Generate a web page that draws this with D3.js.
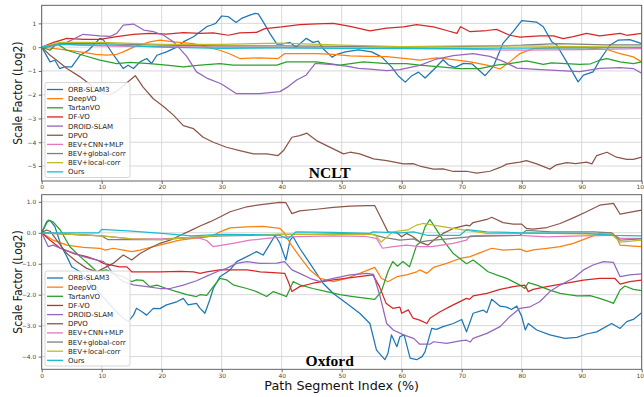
<!DOCTYPE html>
<html>
<head>
<meta charset="utf-8">
<script src="https://cdn.jsdelivr.net/npm/d3@7"></script>
<style>
  body { margin: 0; background: #fff; }
  svg { display: block; font-family: 'DejaVu Sans', sans-serif; }
</style>
</head>
<body>
<div id="chart"></div>
<script>
// legend entries and their matplotlib (tab10) colours
const methods = ['ORB-SLAM3', 'DeepVO', 'TartanVO', 'DF-VO', 'DROID-SLAM', 'DPVO',
  'BEV+CNN+MLP', 'BEV+global-corr', 'BEV+local-corr', 'Ours']
const colors = ['#1f77b4', '#ff7f0e', '#2ca02c', '#d62728', '#9467bd', '#8c564b',
  '#e377c2', '#7f7f7f', '#bcbd22', '#17becf']

const xTicks = [0, 10, 20, 30, 40, 50, 60, 70, 80, 90, 100]
const ncltYTicks = [1, 0, -1, -2, -3, -4, -5]
const oxfordYTicks = [1, 0, -1, -2, -3, -4]
const ncltYDomain = [-5.63, 1.76]
const oxfordYDomain = [-4.41, 1.23]

// NCLT, [path segment %, log2 scale factor]
const ncltOrb = [[0, 0], [1.4, -0.62], [2.2, -0.55], [3, -0.9], [3.8, -0.83], [5, -0.83], [6.4, -0.34], [7.8, -0.13], [9.7, 0.37], [10.3, 0.3], [12, -0.34], [13.6, -0.9], [14.4, -0.76], [15.3, -0.9], [16.4, -0.62], [17.5, -0.48], [18.3, -0.69], [19.2, -0.34], [20.8, -0.2], [22.5, 0], [23.6, 0.22], [25.3, 0.44], [26.4, 0.65], [27.5, 0.86], [28.3, 0.93], [29, 1.0], [30, 1.31], [31.1, 1.28], [32.4, 1.04], [33.3, 1.21], [34.7, 1.35], [35.6, 1.42], [36.1, 1.4], [37, 1.03], [38.1, 0.55], [39.2, 0.13], [40, 0.13], [41.4, 0.2], [42.4, 0], [44.1, 0.37], [45.2, 0.2], [46.1, 0.25], [46.9, -0.07], [48.4, -0.42], [49.2, -0.3], [50.6, -0.2], [52.8, -0.11], [55, -0.2], [56.7, -0.42], [58.3, -0.83], [59.4, -1.2], [60.6, -1.47], [61.7, -1.2], [62.8, -1.05], [63.9, -1.3], [65.3, -0.95], [66.9, -0.53], [67.8, -0.75], [68.9, -0.85], [70.3, -0.68], [71.7, -0.7], [73.9, -1.2], [75.3, -0.8], [76.9, 0.17], [78.6, 0.66], [80, 1.12], [82.5, 1.05], [83.6, 0.86], [85, 0.23], [85.8, 0.1], [87.5, -0.62], [89.4, -1.46], [90.3, -1.18], [91.9, -1.04], [93, -0.55], [94.7, 0.08], [96.1, 0.3], [98, 0.32], [100, 0.15]]
const ncltDeepvo = [[0, 0], [2, -0.05], [4.2, -0.13], [7, -0.22], [9, -0.3], [10.8, -0.34], [12.5, -0.3], [13.6, -0.2], [15.3, 0], [18, 0.22], [19.7, 0.3], [22, 0.22], [25.3, 0.15], [27.5, 0], [29.7, -0.13], [31.5, -0.3], [33, -0.48], [36.3, -0.45], [39.4, -0.48], [40.5, -0.27], [43, -0.27], [45.8, -0.27], [48.6, -0.3], [51.4, -0.37], [54.2, -0.39], [57.5, -0.4], [60.8, -0.48], [63, -0.55], [65.8, -0.45], [68.6, -0.53], [71.4, -0.62], [74.2, -0.76], [76.4, -0.92], [78, -0.62], [79.7, -0.27], [81.9, -0.06], [85.3, -0.03], [90.8, -0.03], [94.2, -0.1], [96.4, -0.27], [98.6, -0.41], [100, -0.62]]
const ncltTartan = [[0, 0], [1.4, -0.13], [2.5, 0.15], [4.2, -0.13], [6.9, -0.34], [9.7, -0.55], [12.5, -0.69], [14.7, -0.64], [18, -0.69], [20.8, -0.76], [23.6, -0.83], [26.4, -0.76], [29.7, -0.69], [31.9, -0.76], [39.2, -0.76], [40.8, -0.62], [45.8, -0.62], [49.7, -0.76], [53.6, -0.62], [57.5, -0.69], [60.8, -0.69], [63, -0.76], [66.4, -0.83], [69.7, -0.9], [73, -0.9], [75.8, -0.76], [78, -0.69], [80.8, -0.58], [83.6, -0.72], [85, -0.66], [89.7, -0.72], [91.5, -0.7], [93, -0.55], [94.2, -0.48], [96.4, -0.62], [98.6, -0.69], [100, -0.62]]
const ncltDfvo = [[0, 0], [2, 0.2], [4.2, 0.37], [7, 0.33], [9.7, 0.33], [12.5, 0.44], [15.3, 0.54], [18, 0.58], [20.8, 0.55], [23.6, 0.61], [26.4, 0.58], [28.6, 0.6], [31.1, 0.5], [33, 0.6], [35.8, 0.62], [37.2, 0.78], [40, 0.85], [43, 0.95], [45.8, 0.98], [48.6, 1.0], [51.4, 0.87], [54.7, 0.68], [57.5, 0.8], [60.3, 0.85], [62.5, 0.95], [65.3, 0.85], [67.5, 0.7], [69.2, 0.58], [69.8, 0.86], [71.4, 0.65], [74.2, 0.7], [75.8, 0.75], [78, 0.5], [79.7, 0.42], [83, 0.47], [85.3, 0.47], [86.9, 0.36], [88.6, 0.44], [90.8, 0.58], [93, 0.47], [96.4, 0.58], [97.5, 0.5], [100, 0.58]]
const ncltDroid = [[0, 0], [2, 0.05], [4.2, 0.2], [6.9, 0.54], [9.7, 0.47], [11.4, 0.45], [12.5, 0.58], [13.6, 0.93], [15.3, 0.97], [17, 0.72], [18.6, 0.65], [20.3, 0.5], [22, 0.22], [24.2, -0.4], [25.8, -1.04], [27.5, -1.3], [29.7, -1.52], [30.3, -1.6], [32.4, -1.95], [36.3, -1.95], [39.7, -1.87], [41.1, -1.66], [42.5, -1.38], [44.1, -1.17], [45.6, -0.68], [48.6, -0.74], [50.8, -0.8], [52.8, -0.89], [54.7, -0.92], [57.5, -0.99], [59.7, -0.95], [63, -0.77], [65.8, -0.5], [68.6, -0.36], [71.9, -0.27], [74.7, -0.39], [76.9, -0.6], [79.2, -0.88], [82.5, -0.93], [86.4, -0.99], [89.7, -1.03], [93, -0.89], [96.4, -0.86], [98.6, -0.9], [100, -1.1]]
const ncltDpvo = [[0, 0], [1.4, -0.34], [2.5, -0.55], [4.2, -0.9], [6.4, -1.25], [8.6, -1.68], [10.3, -1.96], [11.4, -2.0], [12.5, -1.86], [14.2, -1.5], [15.6, -1.2], [16.9, -1.68], [18.6, -2.17], [20.3, -2.5], [22, -2.87], [23.6, -3.3], [25.3, -3.43], [26.9, -3.79], [28.6, -4.0], [30.8, -4.21], [33, -4.35], [35.3, -4.49], [37.5, -4.49], [39.4, -4.56], [40.3, -4.35], [41.7, -3.79], [43, -3.72], [44.2, -3.62], [45.8, -3.93], [48.6, -4.28], [50.3, -4.49], [51.4, -4.42], [53, -4.49], [55.3, -4.7], [57.5, -4.77], [60.3, -4.91], [61.9, -4.9], [63, -5.0], [65.3, -5.13], [66.9, -5.12], [68.6, -5.23], [70.8, -5.22], [72.5, -5.3], [74.7, -5.22], [76.4, -5.06], [77.5, -4.92], [79.7, -4.84], [80.8, -4.77], [82.5, -4.91], [84.7, -5.13], [85.8, -4.95], [87.5, -4.86], [89, -4.9], [90.8, -4.84], [91.7, -4.91], [92.5, -4.56], [94.2, -4.42], [95.8, -4.63], [97.5, -4.72], [98.6, -4.72], [100, -4.63]]
const ncltCnn = [[0, 0], [3, 0.15], [6, 0.1], [10, 0.05], [20, 0.02], [30, 0], [40, -0.02], [50, -0.04], [60, -0.06], [70, -0.08], [80, -0.13], [90, -0.1], [100, -0.06]]
const ncltGlobal = [[0, 0], [3, 0.15], [10, 0.15], [20, 0.08], [30, 0.05], [40, 0.05], [50, 0.03], [60, 0], [70, 0.02], [80, 0.08], [86, 0.15], [94, 0.1], [100, 0.1]]
const ncltLocal = [[0, 0], [3, 0.2], [10, 0.2], [20, 0.12], [30, 0.12], [40, 0.17], [50, 0.08], [60, 0.02], [70, 0.05], [80, 0.05], [90, 0.02], [100, -0.01]]
const ncltOurs = [[0, 0], [3, 0.12], [6, 0.1], [12, 0.08], [20, 0], [30, -0.05], [40, -0.03], [50, -0.05], [60, -0.05], [70, -0.05], [80, -0.04], [90, -0.03], [100, -0.01]]

// Oxford
const oxfordOrb = [[0, 0], [0.8, 0.35], [1.4, 0.4], [2.2, 0.2], [3.3, -0.45], [4.2, -0.77], [5, -1.1], [6.4, -1.26], [8, -1.63], [9.7, -1.96], [11.4, -2.33], [13, -2.66], [14.4, -2.87], [15.3, -2.66], [15.8, -2.44], [16.7, -2.55], [17.5, -2.66], [18.6, -2.44], [19.7, -2.45], [20.8, -2.33], [22.5, -2.23], [23.6, -2.12], [24.4, -2.33], [25.8, -2.28], [26.4, -2.44], [27.2, -2.6], [28, -2.17], [28.6, -1.8], [29.7, -1.42], [31.4, -1.2], [32.5, -0.93], [34.2, -0.77], [35.8, -0.61], [36.9, -0.72], [38.1, -0.34], [38.9, -0.08], [39.7, -0.34], [40.7, -0.88], [41.4, -0.24], [41.9, -0.13], [43, -0.5], [44.7, -0.99], [46.9, -1.63], [48.6, -1.96], [50.8, -2.28], [53, -2.6], [54.7, -2.93], [55.8, -3.79], [57.2, -4.1], [57.7, -3.9], [58.3, -3.3], [59.2, -3.68], [59.7, -3.36], [60.4, -3.3], [61.4, -4.05], [62.5, -4.1], [63.4, -4.0], [63.9, -3.84], [65, -3.09], [65.8, -3.12], [66.9, -3.03], [68.6, -2.93], [70, -2.8], [70.8, -3.2], [71.9, -2.6], [73.6, -2.5], [74.2, -2.58], [75, -2.15], [76.4, -2.37], [77.5, -2.4], [78.3, -2.48], [79.2, -2.37], [80, -2.7], [80.6, -3.14], [81.1, -2.93], [82.5, -3.14], [84.7, -3.3], [87.2, -3.41], [89.2, -3.38], [90.8, -3.27], [92.5, -3.2], [95, -2.93], [96.4, -3.09], [97.5, -2.87], [98.6, -2.8], [100, -2.58]]
const oxfordDeepvo = [[0, 0], [1.9, -0.24], [4.2, -0.4], [6.9, -0.47], [9.7, -0.5], [10.6, -0.56], [11.9, -0.5], [13.6, -0.56], [15, -0.61], [16.4, -0.56], [18.6, -0.45], [20.8, -0.34], [23, -0.24], [25.3, -0.18], [27.5, -0.13], [28.6, -0.08], [29.7, 0.03], [31.4, 0.16], [34.2, 0.19], [36.9, 0.21], [39.7, 0.14], [40.5, -0.02], [41.4, -0.34], [43, -0.77], [44.7, -1.2], [46.4, -1.47], [48.6, -1.58], [50.8, -1.47], [53, -1.31], [55.5, -1.12], [56.6, -1.47], [57.7, -1.58], [59.2, -1.42], [60.8, -1.36], [62.5, -1.26], [63, -1.2], [64.2, -1.31], [65.3, -1.12], [67.5, -0.99], [69.7, -0.83], [71.4, -0.77], [73, -0.65], [75, -0.5], [76.9, -0.56], [79.7, -0.53], [80.8, -0.61], [81.9, -0.55], [84.2, -0.5], [86.4, -0.45], [88.6, -0.34], [90.8, -0.18], [93, -0.02], [94.7, 0], [95.8, -0.13], [96.4, -0.4], [98.6, -0.43], [100, -0.45]]
const oxfordTartan = [[0, 0], [1.1, 0.41], [1.9, 0.35], [3.1, 0.09], [4.7, -0.45], [6.4, -0.77], [8, -1.04], [9.2, -1.26], [10.8, -1.2], [11.9, -1.31], [13.6, -1.42], [15, -1.58], [15.8, -1.52], [16.9, -1.54], [18, -1.74], [19.2, -1.69], [20.8, -1.8], [22.5, -1.9], [24.2, -2.0], [25.8, -2.06], [26.4, -2.0], [27.5, -2.02], [28.6, -1.74], [29.7, -1.47], [30.8, -1.52], [31.9, -1.68], [34.2, -1.8], [35.8, -1.9], [37.5, -2.06], [38.6, -1.9], [40, -2.0], [40.8, -2.06], [41.9, -1.58], [43, -1.68], [45.2, -1.8], [47.5, -1.9], [49.7, -2.0], [51.9, -2.06], [54.2, -2.12], [55.5, -2.15], [56.6, -1.9], [57.7, -1.26], [58.5, -0.93], [59.3, -1.08], [60.2, -0.93], [61.3, -1.1], [62.5, -0.4], [63, -0.32], [63.9, 0.19], [64.7, 0.43], [65.5, 0.19], [66.9, -0.24], [68.6, -0.67], [70, -0.88], [70.8, -1.0], [71.9, -0.88], [73, -1.04], [74.4, -1.26], [75.8, -1.36], [77.5, -1.47], [79.7, -1.69], [80.5, -1.8], [81.1, -1.61], [82.5, -1.69], [84.7, -1.85], [86.4, -1.96], [89.2, -2.04], [91.4, -2.03], [93, -2.12], [94.7, -2.23], [95.3, -2.28], [96.4, -1.85], [97.2, -1.72], [98.6, -1.83], [100, -1.87]]
const oxfordDfvo = [[0, 0], [1.4, -0.24], [3.1, -0.5], [5.3, -0.67], [7.5, -0.77], [9.2, -0.88], [10.3, -0.99], [11.4, -1.04], [13, -1.1], [14.2, -1.1], [15, -1.26], [16.4, -1.26], [19.7, -1.26], [23.1, -1.25], [25.3, -1.26], [26.4, -1.31], [27.5, -1.26], [29.7, -1.2], [31.9, -1.2], [34.2, -1.2], [36.4, -1.26], [38.6, -1.29], [40.5, -1.31], [41.1, -1.58], [41.7, -1.9], [43, -1.74], [45.2, -1.63], [48.6, -1.52], [51.9, -1.44], [55.2, -1.36], [56.3, -1.74], [57.4, -2.28], [58.5, -2.44], [59.7, -2.4], [60, -2.6], [61.1, -2.49], [61.9, -2.76], [63, -2.82], [64.2, -2.93], [64.7, -2.76], [66.4, -2.55], [68.6, -2.33], [70.8, -2.12], [71.3, -2.15], [71.9, -2.04], [74.2, -1.96], [76.4, -1.83], [78.6, -1.74], [80.5, -1.69], [81.1, -1.9], [81.9, -1.83], [84.2, -1.74], [87.5, -1.63], [90.3, -1.53], [93, -1.47], [95.5, -1.47], [96.4, -1.66], [98, -1.58], [100, -1.53]]
const oxfordDroid = [[0, 0], [1.1, -0.45], [1.9, -0.4], [3.1, -0.5], [4.7, -0.61], [6.9, -0.77], [9.2, -0.88], [10.3, -0.93], [10.8, -1.04], [11.9, -1.31], [13.6, -1.58], [15.3, -1.68], [17.5, -1.74], [19.7, -1.8], [21.4, -1.8], [23.6, -1.69], [25.8, -1.55], [27.5, -1.4], [29.7, -1.22], [30.8, -1.15], [32.5, -0.99], [34.2, -0.93], [36.4, -0.99], [39.2, -0.98], [40.5, -0.93], [41.7, -1.2], [43, -1.31], [44.7, -1.47], [46.4, -1.58], [48.6, -1.47], [51.4, -1.36], [54.2, -1.31], [55.3, -1.34], [56.4, -2.06], [57.5, -2.93], [58.6, -3.14], [60.3, -3.3], [62, -3.41], [63, -3.6], [64.7, -3.6], [65.3, -3.52], [67.5, -3.57], [69.7, -3.49], [70.8, -3.47], [71.4, -3.53], [71.9, -3.41], [74.2, -3.25], [76.4, -3.03], [78, -2.71], [79.7, -2.44], [81.4, -2.39], [83, -2.23], [84.7, -1.9], [86.4, -1.69], [88.6, -1.47], [90.3, -1.2], [91.9, -1.04], [93.6, -0.93], [95.3, -0.96], [96.4, -1.42], [98, -1.36], [100, -1.33]]
const oxfordDpvo = [[0, 0], [0.8, 0.09], [1.4, 0.05], [2.5, -0.24], [4.2, -0.67], [5.8, -0.93], [7.5, -1.15], [9.2, -1.26], [10.3, -1.15], [11.9, -0.99], [13.6, -0.72], [15, -0.88], [16.4, -0.67], [18, -0.5], [19.7, -0.34], [21.4, -0.24], [23.1, -0.08], [24.7, 0.06], [26.4, 0.22], [28, 0.35], [29.7, 0.51], [31.4, 0.68], [34.2, 0.84], [36.9, 0.92], [39.7, 0.98], [40.7, 0.97], [41.7, 0.62], [43, 0.71], [45.8, 0.76], [48.6, 0.82], [51.4, 0.86], [54.2, 0.88], [55.5, 0.88], [56.6, 0.46], [57.7, 0.03], [59.2, 0], [60, -0.13], [60.8, -0.02], [61.9, -0.13], [63, -0.3], [64.4, -0.4], [65.3, -0.24], [66.9, -0.02], [68.6, 0.14], [70.8, 0.25], [71.3, 0.22], [71.9, 0.33], [74.2, 0.43], [75, 0.5], [76.9, 0.33], [78.6, 0.28], [80, 0.28], [80.8, 0.14], [81.9, 0.12], [84.2, 0.17], [86.4, 0.3], [88.6, 0.48], [90.8, 0.68], [93, 0.89], [95.3, 0.95], [96.4, 0.6], [98.6, 0.68], [100, 0.73]]
const oxfordCnn = [[0, 0], [5, -0.05], [10, -0.1], [15, -0.2], [20, -0.2], [25, -0.15], [26.4, -0.18], [27.5, -0.25], [28.6, -0.45], [31.9, -0.34], [34.7, -0.24], [37.5, -0.18], [40.8, -0.13], [48.6, -0.1], [54, -0.12], [55.8, -0.18], [56.8, -0.5], [58.6, -0.45], [60.8, -0.4], [63, -0.45], [65, -0.45], [68.6, -0.34], [70.8, -0.24], [71.4, -0.1], [74.2, -0.08], [79.7, -0.08], [84.2, -0.13], [90, -0.1], [95.3, -0.08], [96.4, -0.18], [100, -0.18]]
const oxfordGlobal = [[0, 0], [5, -0.05], [10, -0.1], [11, -0.22], [15, -0.22], [20, -0.22], [25, -0.15], [30, -0.1], [35, -0.08], [40, -0.05], [45, -0.05], [50, -0.03], [55, -0.05], [57, -0.15], [59.7, -0.24], [62, -0.2], [63, -0.3], [64.5, -0.25], [68.6, -0.18], [72, -0.12], [79.7, -0.08], [80.8, 0.08], [85, 0.03], [92, 0.03], [95, 0], [96.4, -0.24], [100, -0.2]]
const oxfordLocal = [[0, 0], [5, -0.05], [10, -0.1], [15, -0.2], [20, -0.22], [25, -0.15], [30, -0.08], [40, -0.05], [50, -0.05], [55.5, -0.05], [56.6, -0.3], [58.5, 0.03], [61, 0.09], [62.5, 0.25], [63.5, 0.3], [68.6, 0.14], [74.2, -0.02], [85, -0.02], [95, -0.05], [96.4, -0.3], [100, -0.24]]
const oxfordOurs = [[0, 0], [5, 0], [9.5, 0], [10, 0.11], [15, 0.05], [20, -0.02], [25, -0.1], [30, -0.05], [35, -0.06], [39.7, -0.08], [41, -0.2], [42.4, 0.03], [48.6, 0.01], [54.7, -0.02], [55.2, 0.03], [59.7, 0], [62, 0.03], [64.2, -0.08], [69.7, -0.08], [70.8, 0.1], [74.2, 0.03], [79.7, 0], [90.8, -0.02], [95.3, -0.08], [100, -0.1]]

const ncltSeries = [ncltOrb, ncltDeepvo, ncltTartan, ncltDfvo, ncltDroid, ncltDpvo, ncltCnn, ncltGlobal, ncltLocal, ncltOurs]
const oxfordSeries = [oxfordOrb, oxfordDeepvo, oxfordTartan, oxfordDfvo, oxfordDroid, oxfordDpvo, oxfordCnn, oxfordGlobal, oxfordLocal, oxfordOurs]

const WIDTH = 644
const HEIGHT = 397
const LEFT = 41.7
const RIGHT = 641.7

const svg = d3.select('#chart').append('svg')
  .attr('width', WIDTH)
  .attr('height', HEIGHT)

/**
 * Draws one of the two stacked panels: grid, axes, lines, legend and title.
 *
 * @param {*} svg The root svg selection
 * @param {object} opts Panel placement, data and labels
 */
function drawPanel (svg, opts) {
  const xScale = d3.scaleLinear().domain([0, 100]).range([LEFT, RIGHT])
  const yScale = d3.scaleLinear().domain(opts.yDomain).range([opts.bottom, opts.top])
  const g = svg.append('g')

  // grid
  g.append('g').selectAll('line').data(xTicks).join('line')
    .attr('x1', d => xScale(d)).attr('x2', d => xScale(d))
    .attr('y1', opts.top).attr('y2', opts.bottom)
    .attr('stroke', '#d8d8d8').attr('stroke-width', 1)
  g.append('g').selectAll('line').data(opts.yTicks).join('line')
    .attr('x1', LEFT).attr('x2', RIGHT)
    .attr('y1', d => yScale(d)).attr('y2', d => yScale(d))
    .attr('stroke', '#d8d8d8').attr('stroke-width', 1)

  // axes
  const xAxis = g.append('g')
    .attr('transform', 'translate(0,' + opts.bottom + ')')
    .call(d3.axisBottom(xScale).tickValues(xTicks).tickSize(3).tickPadding(1.2))
  const yAxis = g.append('g')
    .attr('transform', 'translate(' + LEFT + ',0)')
    .call(d3.axisLeft(yScale).tickValues(opts.yTicks).tickSize(3).tickPadding(2.5))
  for (const ax of [xAxis, yAxis]) {
    ax.select('.domain').remove()
    ax.selectAll('line').attr('stroke', '#444').attr('stroke-width', 0.8)
    ax.selectAll('text')
      .attr('fill', '#444')
      .style('font-family', 'DejaVu Sans, sans-serif')
      .style('font-size', '5.9px')
  }

  // lines
  const clipId = 'clip-' + opts.name
  svg.append('clipPath').attr('id', clipId).append('rect')
    .attr('x', LEFT).attr('y', opts.top)
    .attr('width', RIGHT - LEFT).attr('height', opts.bottom - opts.top)
  const line = d3.line().x(d => xScale(d[0])).y(d => yScale(d[1]))
  g.append('g').attr('clip-path', 'url(#' + clipId + ')')
    .selectAll('path').data(opts.series).join('path')
    .attr('d', line)
    .attr('fill', 'none')
    .attr('stroke', (d, i) => colors[i])
    .attr('stroke-width', 1.25)
    .attr('stroke-linejoin', 'round')

  // frame
  g.append('rect')
    .attr('x', LEFT).attr('y', opts.top)
    .attr('width', RIGHT - LEFT).attr('height', opts.bottom - opts.top)
    .attr('fill', 'none').attr('stroke', '#555').attr('stroke-width', 0.9)

  // legend
  const lg = g.append('g').attr('transform', 'translate(45,' + opts.legendTop + ')')
  lg.append('rect')
    .attr('width', 85).attr('height', 95).attr('rx', 2)
    .attr('fill', '#fff').attr('fill-opacity', 0.85)
    .attr('stroke', '#ccc').attr('stroke-width', 0.8)
  const rows = lg.selectAll('.entry').data(methods).join('g')
    .attr('class', 'entry')
    .attr('transform', (d, i) => 'translate(0,' + (7 + i * 9.15) + ')')
  rows.append('line')
    .attr('x1', 2).attr('x2', 18)
    .attr('stroke', (d, i) => colors[i]).attr('stroke-width', 1.3)
  rows.append('text')
    .attr('x', 23).attr('dy', '0.35em')
    .attr('fill', '#222')
    .style('font-size', '7px')
    .text(d => d)

  // panel title
  g.append('text')
    .attr('x', xScale(48)).attr('y', opts.titleY)
    .attr('text-anchor', 'middle')
    .style('font-family', 'Liberation Serif, serif')
    .style('font-weight', 'bold')
    .style('font-size', '15.5px')
    .text(opts.title)

  // y label
  g.append('text')
    .attr('transform', 'translate(21.5,' + ((opts.top + opts.bottom) / 2) + ') scale(1.2,1) rotate(-90)')
    .attr('text-anchor', 'middle')
    .attr('fill', '#111')
    .style('font-size', '10.8px')
    .text('Scale Factor (Log2)')

  return xScale
}

const xScale = drawPanel(svg, {
  name: 'nclt',
  top: 5.3,
  bottom: 181,
  yDomain: ncltYDomain,
  yTicks: ncltYTicks,
  series: ncltSeries,
  legendTop: 82.5,
  title: 'NCLT',
  titleY: 178
})

drawPanel(svg, {
  name: 'oxford',
  top: 194.7,
  bottom: 369.3,
  yDomain: oxfordYDomain,
  yTicks: oxfordYTicks,
  series: oxfordSeries,
  legendTop: 271,
  title: 'Oxford',
  titleY: 365.5
})

svg.append('text')
  .attr('transform', 'translate(' + ((LEFT + RIGHT) / 2) + ',390) scale(1.1,1)')
  .attr('text-anchor', 'middle')
  .attr('fill', '#111')
  .style('font-size', '11.6px')
  .text('Path Segment Index (%)')
</script>
</body>
</html>
